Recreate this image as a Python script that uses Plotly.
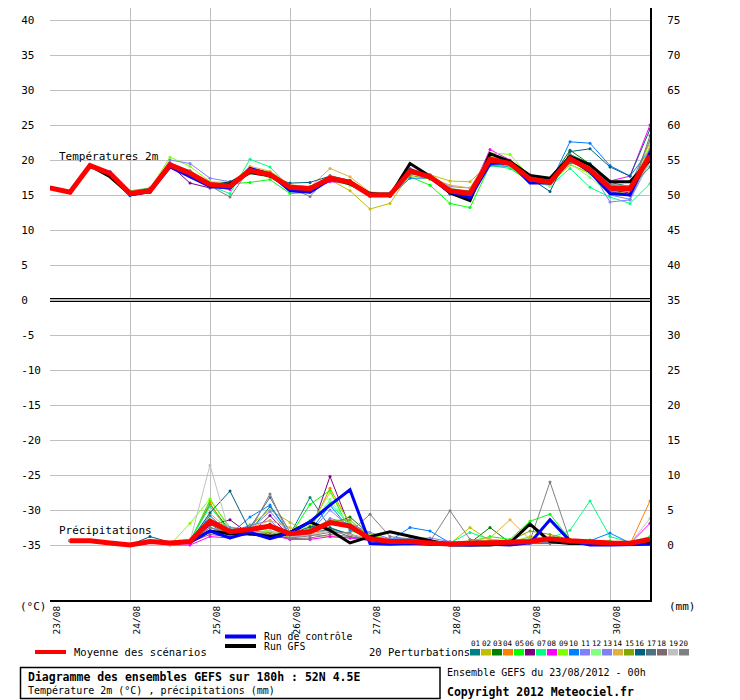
import plotly.graph_objects as go

# ---------------- data ----------------
HOURS_T = list(range(0, 181, 6))      # temperature steps (h)
HOURS_P = list(range(6, 181, 6))      # precipitation steps (h)
DAY_TICKS = [0, 24, 48, 72, 96, 120, 144, 168]
DAY_LABELS = ["23/08", "24/08", "25/08", "26/08", "27/08", "28/08", "29/08", "30/08"]
LEFT_TICKS = list(range(-35, 41, 5))
RIGHT_TICKS = list(range(0, 76, 5))

MEMBER_NAMES = ["01", "02", "03", "04", "05", "06", "07", "08", "09", "10",
                "11", "12", "13", "14", "15", "16", "17", "18", "19", "20"]
MEMBER_COLORS = ["#008080", "#c0c000", "#008000", "#ff8000", "#00ff00", "#800080", "#00ff80",
                 "#ff00ff", "#80ff00", "#0080ff", "#8080ff", "#80ff80", "#8080f0", "#e0b040",
                 "#80a800", "#006080", "#507080", "#806870", "#c0c0c0", "#808080"]

# Temperature 2m (deg C)
t_mean = [16.0, 15.4, 19.2, 18.1, 15.2, 15.6, 19.3, 18.1, 16.5, 16.3, 18.5, 17.9, 16.1, 15.9, 17.4, 16.8,
          15.0, 15.0, 18.4, 17.6, 15.6, 15.2, 20.1, 19.5, 17.3, 16.8, 20.2, 18.6, 16.0, 15.9, 20.6]
t_gfs = [16.0, 15.4, 19.2, 17.6, 15.1, 15.5, 19.3, 18.0, 16.4, 16.6, 18.2, 17.8, 16.0, 15.8, 17.4, 16.6,
         15.2, 14.9, 19.5, 17.7, 15.3, 14.2, 20.9, 19.8, 17.8, 17.4, 20.5, 19.3, 16.9, 16.9, 20.0]
t_ctrl = [16.0, 15.4, 19.2, 18.1, 15.0, 15.5, 19.0, 17.6, 16.2, 16.0, 18.8, 18.0, 15.6, 15.4, 17.2, 16.8,
          15.1, 15.0, 18.6, 17.5, 15.4, 14.6, 19.5, 19.6, 16.7, 16.7, 20.2, 18.3, 15.2, 15.0, 21.0]
t_m01 = [16.0, 15.4, 19.2, 18.2, 15.0, 15.6, 19.1, 18.0, 16.6, 16.6, 18.7, 17.8, 16.4, 16.2, 17.6, 16.9,
         15.3, 15.1, 18.3, 17.8, 15.8, 15.4, 19.8, 19.4, 17.6, 17.0, 20.8, 19.5, 16.8, 16.2, 21.5]
t_m02 = [16.0, 15.4, 19.2, 18.0, 15.4, 15.8, 19.4, 18.4, 16.7, 16.1, 18.9, 18.2, 16.3, 15.6, 17.2, 15.6,
         13.0, 13.8, 18.0, 17.9, 17.0, 16.9, 19.6, 19.2, 17.2, 16.6, 19.3, 18.2, 16.2, 15.9, 20.8]
t_m03 = [16.0, 15.4, 19.2, 18.1, 15.3, 15.7, 19.2, 18.0, 16.3, 16.4, 18.2, 17.7, 16.0, 16.0, 17.3, 16.6,
         15.1, 15.2, 18.6, 17.4, 15.5, 15.0, 20.3, 19.8, 17.6, 17.1, 21.4, 19.4, 16.4, 16.0, 20.3]
t_m04 = [16.0, 15.4, 19.2, 18.2, 15.1, 15.5, 19.4, 18.1, 16.4, 16.5, 18.7, 17.9, 16.2, 15.7, 17.0, 16.5,
         14.9, 14.9, 18.2, 17.6, 15.2, 14.5, 20.0, 19.5, 17.0, 16.8, 19.7, 18.6, 16.1, 15.5, 21.0]
t_m05 = [16.0, 15.4, 19.2, 18.3, 15.6, 16.0, 19.0, 17.9, 16.2, 16.6, 16.8, 17.2, 15.2, 15.4, 17.2, 16.9,
         15.0, 15.1, 17.6, 16.4, 13.8, 13.2, 19.2, 18.8, 16.9, 16.5, 20.0, 18.2, 15.6, 15.5, 20.0]
t_m06 = [16.0, 15.4, 19.2, 18.0, 15.2, 15.6, 19.3, 16.7, 16.0, 16.2, 18.4, 18.0, 16.0, 15.8, 17.5, 17.0,
         15.2, 15.1, 18.5, 17.6, 15.4, 15.3, 20.1, 19.5, 17.1, 16.9, 19.8, 18.9, 15.7, 15.3, 21.2]
t_m07 = [16.0, 15.4, 19.2, 18.1, 15.3, 15.6, 19.3, 18.3, 16.3, 15.2, 20.1, 19.0, 16.0, 15.5, 17.2, 16.4,
         15.0, 14.9, 18.0, 17.8, 15.9, 15.6, 19.8, 18.9, 17.2, 16.3, 18.8, 16.1, 14.7, 13.8, 16.6]
t_m08 = [16.0, 15.4, 19.2, 18.1, 15.2, 15.5, 19.0, 17.9, 16.2, 15.8, 18.3, 17.6, 16.0, 15.8, 16.9, 16.7,
         15.1, 15.0, 18.5, 17.6, 15.4, 15.2, 21.5, 20.0, 17.4, 16.9, 20.0, 18.5, 17.0, 17.7, 25.0]
t_m09 = [16.0, 15.4, 19.2, 18.3, 15.5, 15.9, 20.4, 19.1, 16.9, 16.8, 18.8, 18.3, 16.3, 16.0, 17.6, 17.1,
         15.4, 15.3, 18.2, 17.9, 15.9, 15.3, 21.0, 20.8, 17.5, 17.0, 19.4, 18.0, 15.8, 15.8, 22.5]
t_m10 = [16.0, 15.4, 19.2, 18.0, 14.9, 15.4, 18.9, 17.6, 16.1, 16.0, 18.6, 17.8, 16.1, 15.9, 17.5, 16.7,
         14.9, 14.8, 17.4, 17.4, 15.1, 14.8, 19.2, 19.1, 17.2, 16.6, 22.6, 22.4, 19.2, 17.7, 21.5]
t_m11 = [16.0, 15.4, 19.2, 18.4, 15.3, 15.7, 20.0, 19.5, 17.4, 16.9, 18.4, 17.9, 16.2, 16.0, 17.4, 16.9,
         15.0, 15.1, 18.7, 17.6, 15.6, 15.4, 20.2, 19.4, 17.0, 16.6, 19.9, 18.7, 14.0, 14.3, 19.8]
t_m12 = [16.0, 15.4, 19.2, 18.1, 15.1, 15.6, 19.2, 18.2, 16.6, 16.4, 18.1, 17.5, 16.0, 15.9, 17.1, 16.4,
         14.9, 15.0, 18.6, 17.2, 15.5, 15.4, 19.9, 19.1, 17.3, 16.2, 19.5, 17.5, 15.2, 15.0, 19.5]
t_m13 = [16.0, 15.4, 19.2, 18.2, 15.3, 15.8, 19.5, 18.5, 16.6, 16.6, 18.6, 18.0, 15.9, 15.7, 17.6, 16.6,
         15.0, 15.0, 18.3, 17.8, 16.2, 16.0, 19.8, 19.3, 17.1, 16.8, 19.8, 18.8, 15.0, 14.4, 20.5]
t_m14 = [16.0, 15.4, 19.2, 18.2, 15.4, 15.7, 19.6, 18.3, 16.7, 16.5, 19.1, 18.4, 16.5, 16.1, 18.8, 17.6,
         15.4, 15.3, 18.8, 17.5, 16.4, 16.0, 20.6, 19.6, 17.1, 17.1, 20.1, 18.8, 16.3, 15.4, 22.0]
t_m15 = [16.0, 15.4, 19.2, 18.1, 15.2, 15.5, 19.2, 18.0, 16.4, 16.3, 18.2, 17.6, 15.9, 15.7, 17.2, 16.7,
         15.2, 15.1, 17.8, 17.3, 15.7, 15.6, 19.6, 19.4, 17.9, 16.7, 20.1, 18.3, 15.6, 15.1, 20.0]
t_m16 = [16.0, 15.4, 19.2, 18.0, 15.1, 15.4, 19.1, 17.8, 16.4, 16.9, 18.4, 17.6, 16.7, 16.8, 17.7, 17.1,
         15.2, 15.1, 18.4, 17.4, 15.5, 15.2, 19.7, 19.3, 17.4, 15.5, 21.2, 21.6, 19.0, 17.7, 24.4]
t_m17 = [16.0, 15.4, 19.2, 18.1, 15.2, 15.6, 19.4, 18.0, 16.5, 16.4, 18.5, 18.0, 16.1, 15.9, 17.3, 17.0,
         15.3, 15.3, 18.5, 17.8, 15.7, 15.5, 20.3, 19.5, 17.6, 17.1, 20.4, 18.8, 16.3, 16.0, 19.0]
t_m18 = [16.0, 15.4, 19.2, 18.2, 15.2, 15.6, 19.3, 18.2, 16.5, 16.2, 18.3, 17.8, 15.9, 15.6, 17.0, 16.8,
         14.8, 15.0, 18.1, 17.6, 15.8, 15.4, 19.8, 19.7, 17.3, 16.9, 19.6, 18.9, 15.5, 14.9, 23.5]
t_m19 = [16.0, 15.4, 19.2, 18.2, 15.2, 15.7, 19.3, 18.3, 16.7, 16.5, 18.6, 18.0, 16.2, 16.0, 17.5, 16.8,
         15.2, 15.1, 18.6, 17.7, 15.6, 15.4, 20.0, 19.6, 17.4, 16.8, 20.3, 18.8, 16.3, 16.2, 20.4]
t_m20 = [16.0, 15.4, 19.2, 18.3, 15.4, 16.0, 19.6, 18.4, 16.3, 14.7, 18.8, 18.2, 16.0, 14.8, 17.8, 17.0,
         15.1, 15.0, 18.8, 17.9, 15.6, 15.3, 20.4, 19.8, 17.8, 17.0, 20.7, 19.3, 16.5, 16.3, 22.8]

# Precipitation (mm per 6h)
p_mean = [0.6, 0.6, 0.3, 0.0, 0.5, 0.3, 0.5, 3.4, 1.9, 2.2, 2.7, 1.6, 1.9, 3.2, 2.7, 0.9,
          0.5, 0.5, 0.3, 0.15, 0.25, 0.4, 0.4, 0.5, 0.9, 0.6, 0.4, 0.3, 0.25, 0.8]
p_gfs = [0.6, 0.6, 0.3, 0.0, 0.5, 0.3, 0.4, 2.0, 1.6, 1.6, 1.2, 1.8, 3.3, 2.1, 0.3, 1.2,
         1.9, 1.3, 0.7, 0.0, 0.0, 0.0, 0.3, 3.0, 0.5, 0.2, 0.2, 0.1, 0.1, 0.3]
p_ctrl = [0.6, 0.6, 0.3, 0.0, 0.4, 0.3, 0.4, 2.0, 1.0, 1.8, 0.9, 1.7, 3.3, 5.7, 7.9, 0.2,
          0.1, 0.2, 0.1, 0.0, 0.0, 0.1, 0.0, 0.3, 3.6, 0.6, 0.0, 0.0, 0.0, 0.1]
p_m01 = [0.6, 0.6, 0.3, 0.0, 0.5, 0.2, 0.4, 3.0, 1.2, 2.0, 5.5, 1.5, 6.8, 2.5, 1.5, 0.8,
         0.3, 0.4, 0.2, 0.1, 0.2, 0.3, 0.2, 0.3, 0.5, 0.4, 0.3, 0.2, 0.1, 0.5]
p_m02 = [0.6, 0.6, 0.3, 0.0, 0.4, 0.3, 0.5, 2.5, 1.5, 2.8, 5.0, 3.2, 1.5, 1.2, 1.0, 1.2,
         0.5, 0.4, 0.3, 0.2, 2.5, 0.6, 0.4, 1.2, 0.8, 0.4, 0.3, 0.2, 0.2, 0.6]
p_m03 = [0.6, 0.6, 0.3, 0.0, 0.5, 0.3, 0.6, 5.8, 2.0, 1.5, 1.2, 1.0, 2.5, 3.0, 4.0, 1.5,
         0.6, 0.5, 0.4, 0.1, 0.3, 2.5, 0.3, 0.6, 0.8, 0.7, 0.6, 0.3, 0.2, 1.0]
p_m04 = [0.6, 0.6, 0.3, 0.0, 0.4, 0.3, 0.5, 6.0, 1.5, 1.8, 2.0, 1.2, 2.2, 8.1, 3.0, 0.6,
         0.3, 0.3, 0.2, 0.1, 0.2, 0.4, 0.3, 0.4, 0.6, 0.5, 0.3, 0.2, 0.1, 6.3]
p_m05 = [0.6, 0.6, 0.3, 0.0, 0.5, 0.3, 0.5, 6.4, 2.5, 2.2, 1.5, 1.3, 5.8, 7.8, 2.0, 1.3,
         0.8, 0.5, 0.3, 0.2, 0.5, 1.2, 0.8, 3.4, 4.4, 0.8, 0.7, 0.6, 0.4, 1.2]
p_m06 = [0.6, 0.6, 0.3, 0.0, 0.4, 0.2, 0.4, 2.8, 3.6, 1.5, 4.2, 1.2, 1.5, 9.8, 2.5, 0.5,
         0.2, 0.2, 0.1, 0.1, 0.2, 0.3, 0.2, 0.2, 0.4, 0.3, 0.2, 0.1, 0.1, 0.4]
p_m07 = [0.6, 0.6, 0.3, 0.0, 0.5, 0.3, 0.6, 5.5, 1.8, 2.0, 2.5, 1.0, 3.5, 6.0, 2.8, 0.9,
         0.5, 0.6, 0.4, 0.3, 1.8, 0.8, 0.6, 0.9, 1.0, 2.1, 6.3, 1.2, 0.4, 0.7]
p_m08 = [0.6, 0.6, 0.3, 0.0, 0.4, 0.0, 0.0, 1.2, 1.0, 1.8, 1.5, 0.8, 0.8, 1.2, 1.0, 0.6,
         0.3, 0.2, 0.1, 0.1, 0.2, 0.3, 0.4, 0.3, 0.5, 0.2, 0.2, 0.2, 0.2, 3.1]
p_m09 = [0.6, 0.6, 0.3, 0.0, 0.5, 0.0, 3.1, 6.6, 2.2, 2.5, 2.0, 1.4, 2.8, 7.5, 3.2, 1.5,
         0.8, 0.6, 0.4, 0.2, 0.4, 0.7, 0.5, 0.8, 1.0, 0.6, 0.5, 0.4, 0.3, 1.0]
p_m10 = [0.6, 0.6, 0.3, 0.0, 0.4, 0.3, 0.5, 4.2, 1.5, 4.0, 5.7, 1.5, 2.0, 5.7, 2.2, 1.0,
         0.6, 2.5, 2.0, 0.3, 0.2, 0.3, 0.2, 0.4, 0.5, 0.4, 0.6, 1.7, 0.3, 0.5]
p_m11 = [0.6, 0.6, 0.3, 0.0, 0.4, 0.3, 0.5, 3.5, 2.5, 2.2, 4.8, 1.5, 1.8, 5.0, 2.5, 1.2,
         0.8, 0.9, 0.6, 0.4, 0.3, 0.4, 0.3, 0.3, 0.4, 0.3, 0.3, 0.2, 0.2, 0.4]
p_m12 = [0.6, 0.6, 0.3, 0.0, 0.5, 0.3, 0.5, 3.8, 1.2, 3.0, 2.0, 1.2, 2.5, 6.5, 2.8, 1.3,
         0.6, 0.5, 0.3, 0.2, 0.3, 0.5, 0.4, 0.6, 0.8, 0.5, 0.4, 0.3, 0.2, 0.6]
p_m13 = [0.6, 0.6, 0.3, 0.0, 0.4, 0.3, 0.4, 2.5, 1.8, 2.8, 3.5, 1.0, 1.6, 3.8, 3.0, 1.8,
         0.9, 1.0, 1.0, 0.5, 0.3, 0.3, 0.2, 0.3, 0.4, 0.3, 0.2, 0.2, 0.2, 0.3]
p_m14 = [0.6, 0.6, 0.3, 0.0, 0.5, 0.3, 0.5, 4.5, 2.0, 2.5, 3.5, 2.5, 1.5, 2.2, 1.6, 0.9,
         0.5, 0.4, 0.3, 0.4, 0.6, 1.0, 3.6, 0.8, 0.6, 0.4, 0.4, 0.3, 0.2, 0.8]
p_m15 = [0.6, 0.6, 0.3, 0.0, 0.4, 0.3, 0.4, 3.2, 1.4, 1.6, 1.8, 1.1, 2.3, 3.5, 3.6, 1.0,
         0.5, 0.5, 0.4, 0.3, 0.4, 0.5, 0.6, 2.0, 1.5, 0.8, 0.6, 0.4, 0.3, 0.6]
p_m16 = [0.6, 0.6, 0.3, 0.0, 1.2, 0.4, 0.5, 4.6, 7.7, 2.0, 3.0, 1.5, 2.6, 2.4, 1.5, 0.7,
         0.3, 0.3, 0.2, 0.1, 0.1, 0.2, 0.1, 0.2, 0.3, 0.2, 0.1, 0.1, 0.1, 0.2]
p_m17 = [0.6, 0.6, 0.3, 0.0, 0.4, 0.3, 0.4, 3.0, 2.2, 2.5, 6.8, 1.8, 1.8, 2.2, 1.2, 0.6,
         0.3, 0.3, 0.2, 0.1, 0.1, 0.2, 0.2, 0.3, 0.3, 0.2, 0.2, 0.1, 0.1, 0.3]
p_m18 = [0.6, 0.6, 0.3, 0.0, 0.4, 0.2, 0.4, 1.5, 1.2, 1.5, 1.5, 0.9, 1.0, 1.5, 1.2, 0.7,
         0.3, 0.3, 0.2, 0.1, 0.2, 0.2, 0.2, 0.2, 0.3, 0.2, 0.2, 0.1, 0.1, 0.3]
p_m19 = [0.6, 0.6, 0.3, 0.0, 0.5, 0.3, 0.5, 11.4, 1.5, 1.6, 2.0, 1.2, 1.4, 2.0, 1.5, 0.8,
         0.4, 0.3, 0.2, 0.2, 0.2, 0.3, 0.3, 0.3, 0.5, 0.3, 0.3, 0.2, 0.2, 3.8]
p_m20 = [0.6, 0.6, 0.3, 0.0, 0.4, 0.3, 0.4, 2.5, 1.5, 2.0, 7.3, 1.0, 1.3, 1.8, 1.8, 4.4,
         1.2, 0.8, 0.5, 4.9, 0.8, 0.4, 0.3, 0.6, 9.0, 0.6, 0.3, 0.2, 0.2, 0.6]

TEMP_MEMBERS = [t_m01, t_m02, t_m03, t_m04, t_m05, t_m06, t_m07, t_m08, t_m09, t_m10,
                t_m11, t_m12, t_m13, t_m14, t_m15, t_m16, t_m17, t_m18, t_m19, t_m20]
PREC_MEMBERS = [p_m01, p_m02, p_m03, p_m04, p_m05, p_m06, p_m07, p_m08, p_m09, p_m10,
                p_m11, p_m12, p_m13, p_m14, p_m15, p_m16, p_m17, p_m18, p_m19, p_m20]

# ---------------- figure ----------------
MONO = "DejaVu Sans Mono"
OFF = 8                                # page body margin of the browser
W, H = 740 - OFF, 700 - OFF
PL, PR, PT, PB = 50, 650, OFF, 600     # plot area in page pixels
UNIT = 7.0                             # px per degree, zero line at page y=300
Y_BOTTOM = -(PB - 300) / UNIT
Y_TOP = (300 - PT) / UNIT

def fx(px):
    return (px - PL) / (PR - PL)

def fy(py):
    return (PB - py) / (PB - PT)

fig = go.Figure()

for name, col, tv, pv in zip(MEMBER_NAMES, MEMBER_COLORS, TEMP_MEMBERS, PREC_MEMBERS):
    fig.add_trace(go.Scatter(x=HOURS_T, y=tv, mode="lines+markers", name=name,
                             line=dict(color=col, width=1), marker=dict(color=col, size=3),
                             showlegend=False, yaxis="y"))
    fig.add_trace(go.Scatter(x=HOURS_P, y=pv, mode="lines+markers", name=name,
                             line=dict(color=col, width=1), marker=dict(color=col, size=3),
                             showlegend=False, yaxis="y2"))

for tv, pv, col, wid in [(t_gfs, p_gfs, "#000000", 3), (t_ctrl, p_ctrl, "#0000ff", 3),
                         (t_mean, p_mean, "#ff0000", 5)]:
    fig.add_trace(go.Scatter(x=HOURS_T, y=tv, mode="lines", line=dict(color=col, width=wid),
                             showlegend=False, yaxis="y"))
    fig.add_trace(go.Scatter(x=HOURS_P, y=pv, mode="lines", line=dict(color=col, width=wid),
                             showlegend=False, yaxis="y2"))

pad = "\u00a0"
left_text = [(str(v) + pad * 3)[:3] for v in LEFT_TICKS]

fig.update_layout(
    width=W, height=H, autosize=False,
    margin=dict(l=PL - OFF, r=W - (PR - OFF), t=0, b=H - (PB - OFF), pad=0),
    plot_bgcolor="white", paper_bgcolor="white",
    font=dict(family=MONO, size=11, color="black"),
    xaxis=dict(range=[0, 180], tickvals=DAY_TICKS, ticktext=DAY_LABELS, tickangle=-90,
               showgrid=True, gridcolor="#c0c0c0", gridwidth=1, zeroline=False,
               showline=True, linecolor="black", linewidth=2, ticks="",
               tickfont=dict(family=MONO, size=9.5), ticklabelshift=7, ticklabelstandoff=0,
               fixedrange=True),
    yaxis=dict(range=[Y_BOTTOM, Y_TOP], tickvals=LEFT_TICKS, ticktext=left_text,
               showgrid=True, gridcolor="#c0c0c0", gridwidth=1, zeroline=False,
               showline=False, ticks="", tickfont=dict(family=MONO, size=11),
               ticklabelstandoff=8),
    yaxis2=dict(range=[35 + Y_BOTTOM, 35 + Y_TOP], tickvals=RIGHT_TICKS, overlaying="y", side="right",
                showgrid=False, zeroline=False, showline=True, linecolor="black", linewidth=2,
                ticks="", tickfont=dict(family=MONO, size=11), ticklabelstandoff=13),
)

shapes = [
    dict(type="line", xref="x", yref="y", x0=0, x1=180, y0=0, y1=0,
         line=dict(color="black", width=4)),
    dict(type="line", xref="x", yref="y", x0=0, x1=180, y0=0, y1=0,
         line=dict(color="white", width=1.4)),
    # legend swatches
    dict(type="line", xref="paper", yref="paper", x0=fx(225), x1=fx(256), y0=fy(636.5), y1=fy(636.5),
         line=dict(color="#0000ff", width=4)),
    dict(type="line", xref="paper", yref="paper", x0=fx(225), x1=fx(256), y0=fy(646), y1=fy(646),
         line=dict(color="#000000", width=4)),
    dict(type="line", xref="paper", yref="paper", x0=fx(35), x1=fx(66), y0=fy(652), y1=fy(652),
         line=dict(color="#ff0000", width=4)),
    # title box
    dict(type="rect", xref="paper", yref="paper", x0=fx(20.5), x1=fx(440), y0=fy(667.5), y1=fy(698.5),
         line=dict(color="black", width=1.5)),
]
for i, col in enumerate(MEMBER_COLORS):
    x0 = 470 + 11 * i
    shapes.append(dict(type="rect", xref="paper", yref="paper", x0=fx(x0), x1=fx(x0 + 10),
                       y0=fy(655.5), y1=fy(649), line=dict(width=0), fillcolor=col))
fig.update_layout(shapes=shapes)

ann = []
def text(px, py, s, size=11, bold=False, anchor="left"):
    if bold:
        s = "<b>" + s + "</b>"
    ann.append(dict(xref="paper", yref="paper", x=fx(px), y=fy(py), text=s, showarrow=False,
                    xanchor=anchor, yanchor="middle", borderpad=0,
                    font=dict(family=MONO, size=size, color="black")))

ann.append(dict(xref="x", yref="y", x=3, y=(300 - 156) / UNIT, text="Températures 2m", showarrow=False,
                xanchor="left", yanchor="middle", xshift=-3, font=dict(family=MONO, size=11)))
ann.append(dict(xref="x", yref="y", x=3, y=(300 - 530) / UNIT, text="Précipitations", showarrow=False,
                xanchor="left", yanchor="middle", xshift=-3, font=dict(family=MONO, size=11)))
text(19, 606, "(°C)")
text(668, 606, "(mm)")
text(263, 636, "Run de contrôle", size=9.8)
text(263, 646.5, "Run GFS", size=9.8)
text(73, 652, "Moyenne des scénarios", size=10.5)
text(368, 652, "20 Perturbations", size=10.5)
for i, nm in enumerate(MEMBER_NAMES):
    text(475 + 11 * i, 643, nm, size=7.5, anchor="center")
text(27, 677, "Diagramme des ensembles GEFS sur 180h : 52N 4.5E", size=11.5, bold=True)
text(27, 690.5, "Température 2m (°C) , précipitations (mm)", size=10)
text(446, 672, "Ensemble GEFS du 23/08/2012 - 00h", size=10)
text(446, 691.5, "Copyright 2012 Meteociel.fr", size=11.5, bold=True)
fig.update_layout(annotations=ann)

fig.write_html("out.html")
